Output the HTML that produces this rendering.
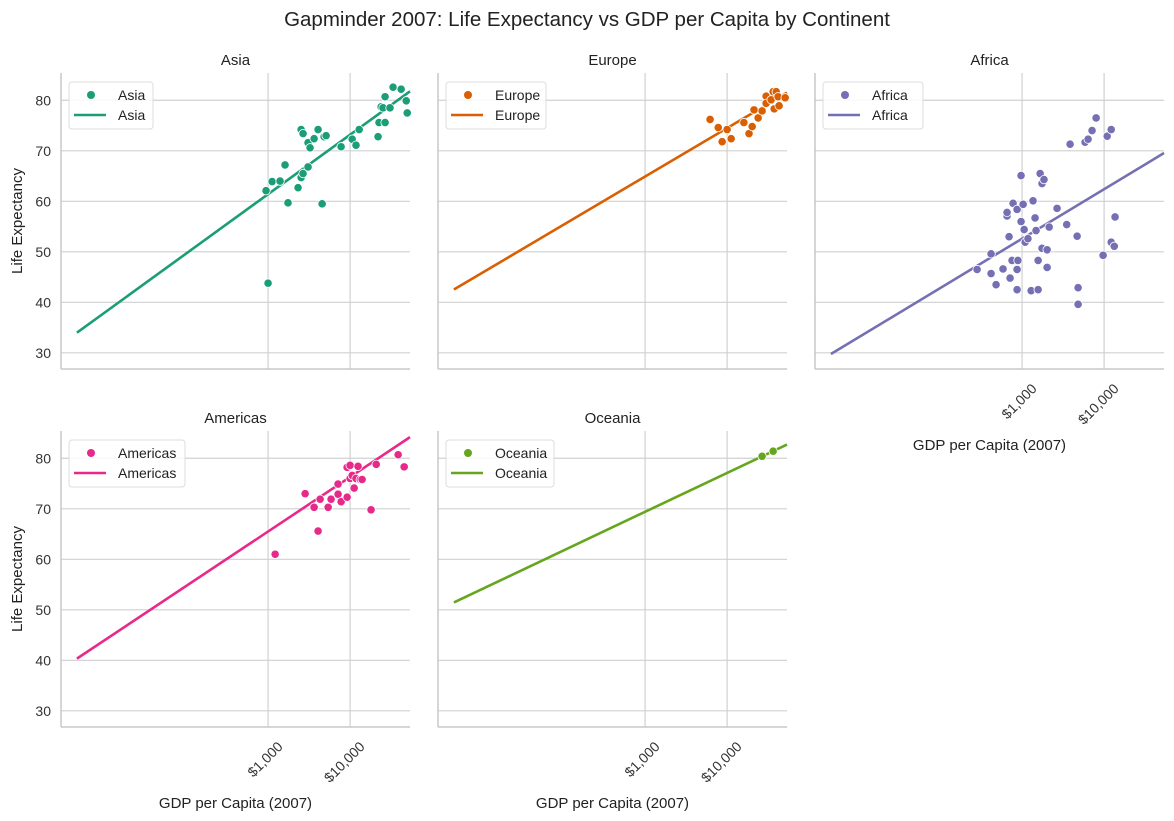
<!DOCTYPE html>
<html><head><meta charset="utf-8"><style>
body{margin:0;background:#fff}
svg{display:block;font-family:"Liberation Sans",Arial,sans-serif}
</style></head><body>
<svg id="c" width="1174" height="821" viewBox="0 0 1174 821">
<text x="587" y="26" text-anchor="middle" font-size="20.5" fill="#222">Gapminder 2007: Life Expectancy vs GDP per Capita by Continent</text>
</svg>
<script>
const continents=["Asia","Europe","Africa","Americas","Oceania"];
const colors=["#1b9e77","#d95f02","#7570b3","#e7298a","#66a61e"];
const asiaGdp=[1000,945,1120,1400,1610,1750,2320,2530,2530,2670,2670,3070,3070,3250,3640,4070,4560,4820,5100,7770,10600,11800,12900,21900,22500,23900,25200,26700,26700,30600,33400,41900,48300,49700];
const asiaLife=[43.8,62.1,63.9,64,67.2,59.7,62.7,74.2,64.7,65.5,73.4,66.8,71.6,70.6,72.4,74.2,59.5,72.8,73.0,70.8,72.3,71.1,74.2,72.8,75.6,78.7,78.5,80.7,75.6,78.5,82.6,82.2,79.9,77.5];
const europeGdp=[6200,7800,8700,10000,11200,16000,18500,20200,21300,23900,26700,29900,29900,34400,36400,37500,39700,43000,41800,51000];
const europeLife=[76.2,74.6,71.8,74.2,72.4,75.6,73.4,74.8,78.1,76.5,77.9,80.8,79.4,80.1,81.7,78.3,81.7,78.9,80.7,80.5];
const africaGdp=[283,419,419,482,586,656,656,694,714,755,777,869,869,869,890,972,972,1030,1060,1090,1180,1290,1360,1440,1480,1570,1570,1660,1750,1850,1750,2020,2020,2140,2670,3500,3850,4690,4820,4820,5860,6380,7130,7990,9720,10900,12200,12200,13300,13600];
const africaLife=[46.5,49.6,45.7,43.5,46.6,57.1,57.8,53.0,44.8,48.3,59.6,58.4,42.5,46.5,48.3,65.1,56.0,59.4,54.4,51.9,52.6,42.3,60.1,56.7,54.2,42.5,48.3,65.5,63.5,64.3,50.7,50.4,46.9,54.9,58.6,55.4,71.3,53.1,42.9,39.6,71.7,72.3,74.0,76.5,49.3,72.9,74.2,51.9,51.1,56.9];
const americasGdp=[1220,2830,3640,4070,4310,5400,5860,7130,7130,7770,9200,9200,10000,10000,10600,11200,11800,12500,13300,14000,18000,20800,38500,45600];
const americasLife=[61.0,73,70.3,65.6,71.9,70.3,71.9,74.9,72.9,71.4,72.3,78.2,78.6,76,76.6,74.1,76,78.4,75.8,75.8,69.8,78.8,80.7,78.3];
const oceaniaGdp=[26700,36400];
const oceaniaLife=[80.4,81.4];
const fitSlope=[11.77,9.6,9.8,10.8,7.7];
const fitIntercept=[26.1,36.1,23.2,33.1,46.3];
const yTicks=[30,40,50,60,70,80];
const xTicks=[1000,10000];
const xTickLabels=["$1,000","$10,000"];
const gdpSets=[asiaGdp,europeGdp,africaGdp,americasGdp,oceaniaGdp];
const lifeSets=[asiaLife,europeLife,africaLife,americasLife,oceaniaLife];

const NS="http://www.w3.org/2000/svg";
const svg=document.getElementById('c');
function mk(tag,attrs,parent){const e=document.createElementNS(NS,tag);for(const k in attrs)e.setAttribute(k,attrs[k]);(parent||svg).appendChild(e);return e;}
const lefts=[61,438,815,61,438], tops=[73,73,73,431,431];
const W=349,H=296;
const logMin=0.476, logMax=4.73, yMin=26.8, yMax=85.4;
continents.forEach((name,i)=>{
  const L=lefts[i],T=tops[i];
  const sx=g=>L+(Math.log10(g)-logMin)/(logMax-logMin)*W;
  const sy=v=>T+(yMax-v)/(yMax-yMin)*H;
  const g=mk('g',{});
  
  
  yTicks.forEach(t=>{const l=mk('line',{x1:L,x2:L+W,y1:sy(t),y2:sy(t),stroke:'#d0d0d0','stroke-width':1.2},g);
    
    if(i===0||i===3){const tx=mk('text',{x:L-10,y:sy(t)+5,'text-anchor':'end','font-size':14,fill:'#333'},g);tx.textContent=t;
      }});
  xTicks.forEach((t,k)=>{const l=mk('line',{x1:sx(t),x2:sx(t),y1:T,y2:T+H,stroke:'#d0d0d0','stroke-width':1.2},g);
    
    if(i>=2){const x=sx(t)+12,y=T+H+17;const tx=mk('text',{x:x,y:y+5,'text-anchor':'end','font-size':14,fill:'#333',transform:`rotate(-45 ${x} ${y})`},g);tx.textContent=xTickLabels[k];
      }});
  const sp1=mk('line',{x1:L,x2:L,y1:T,y2:T+H,stroke:'#c8c8c8','stroke-width':1.5},g);
  
  const sp2=mk('line',{x1:L,x2:L+W,y1:T+H,y2:T+H,stroke:'#c8c8c8','stroke-width':1.5},g);
  
  const pt=mk('text',{x:L+W/2,y:T-8,'text-anchor':'middle','font-size':15,fill:'#222'},g);pt.textContent=name;
  
  const x0=0.67,x1=logMax;
  const ln=mk('line',{x1:sx(Math.pow(10,x0)),y1:sy(fitIntercept[i]+fitSlope[i]*x0),x2:sx(Math.pow(10,x1)),y2:sy(fitIntercept[i]+fitSlope[i]*x1),stroke:colors[i],'stroke-width':2.6},g);
  
  gdpSets[i].forEach((gd,k)=>{const c=mk('circle',{cx:sx(gd),cy:sy(lifeSets[i][k]),r:4.2,fill:colors[i],stroke:'#fff','stroke-width':0.8},g);
    });
  const lw=name.length*8+52;
  const lg=mk('g',{},g);
  
  mk('rect',{x:L+8,y:T+9,width:lw,height:47,rx:3,fill:'#fff','fill-opacity':0.85,stroke:'#dcdcdc'},lg);
  mk('circle',{cx:L+30,cy:T+22,r:4,fill:colors[i]},lg);
  const t1=mk('text',{x:L+57,y:T+27,'font-size':14,fill:'#222'},lg);t1.textContent=name;
  
  mk('line',{x1:L+13,x2:L+45,y1:T+42,y2:T+42,stroke:colors[i],'stroke-width':2.6},lg);
  const t2=mk('text',{x:L+57,y:T+47,'font-size':14,fill:'#222'},lg);t2.textContent=name;
  
  if(i>=2){const xl=mk('text',{x:L+W/2,y:T+H+81,'text-anchor':'middle','font-size':15,fill:'#222'},g);xl.textContent='GDP per Capita (2007)';
    }
  if(i===0||i===3){const yl=mk('text',{x:22,y:T+H/2,'text-anchor':'middle','font-size':15,fill:'#222',transform:`rotate(-90 22 ${T+H/2})`},g);yl.textContent='Life Expectancy';
    }
});
</script>
</body></html>
